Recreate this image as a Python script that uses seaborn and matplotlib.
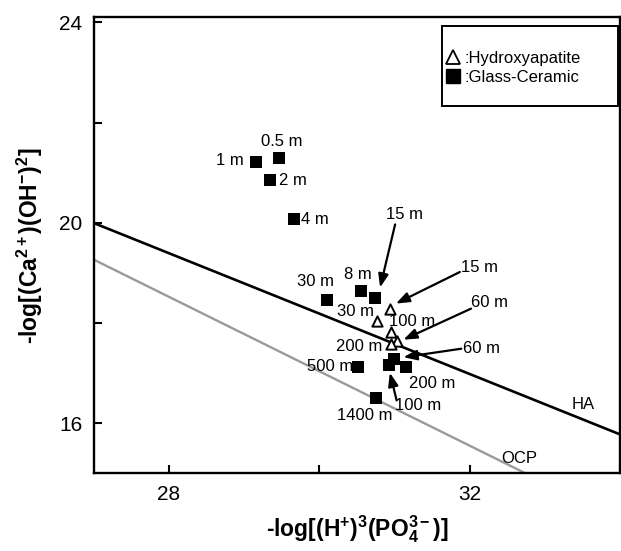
import matplotlib
matplotlib.use("Agg")
import matplotlib.pyplot as plt
import seaborn as sns
import pandas as pd
from matplotlib import font_manager
from matplotlib.lines import Line2D
from matplotlib.patches import Rectangle

# DATA
# glass-ceramic (filled squares)
gc_x = [29.46, 29.16, 29.35, 29.67, 30.11, 30.56, 30.74, 30.51, 30.93, 31.00, 31.15, 30.76]
gc_y = [21.29, 21.22, 20.86, 20.08, 18.46, 18.64, 18.51, 17.12, 17.16, 17.28, 17.12, 16.50]
# hydroxyapatite (open triangles)
ha_pts_x = [30.94, 30.77, 30.95, 31.03, 30.95]
ha_pts_y = [18.28, 18.05, 17.83, 17.65, 17.58]
# solubility lines
ha_line_x = [27.0, 34.0]
ha_line_y = [20.0, 15.78]
ocp_line_x = [27.0, 34.0]
ocp_line_y = [19.27, 14.07]
x_ticks = [28, 30, 32, 34]
y_ticks = [16, 18, 20, 22, 24]

# time labels: (text, x, y, ha)
labels = [
    ("0.5 m", 29.50, 21.62, "center"),
    ("1 m", 28.81, 21.25, "center"),
    ("2 m", 29.46, 20.84, "left"),
    ("4 m", 29.76, 20.06, "left"),
    ("30 m", 29.95, 18.83, "center"),
    ("8 m", 30.51, 18.97, "center"),
    ("30 m", 30.48, 18.23, "center"),
    ("100 m", 31.24, 18.04, "center"),
    ("200 m", 30.53, 17.53, "center"),
    ("500 m", 30.15, 17.13, "center"),
    ("200 m", 31.50, 16.80, "center"),
    ("1400 m", 30.60, 16.16, "center"),
    ("15 m", 31.13, 20.17, "center"),
    ("15 m", 32.13, 19.12, "center"),
    ("60 m", 32.26, 18.41, "center"),
    ("60 m", 32.16, 17.49, "center"),
    ("100 m", 31.32, 16.35, "center"),
]
# arrows: (tail, head)
arrows = [
    ((31.01, 19.97), (30.81, 18.71)),
    ((31.87, 19.02), (31.02, 18.39)),
    ((32.02, 18.29), (31.12, 17.67)),
    ((31.89, 17.49), (31.12, 17.32)),
    ((31.03, 16.46), (30.94, 17.01)),
]

sns.set_style("ticks")
plt.rcParams["font.family"] = ["Liberation Sans", "DejaVu Sans"]
plt.rcParams["mathtext.fontset"] = "custom"
plt.rcParams["mathtext.rm"] = "Liberation Sans"
plt.rcParams["mathtext.bf"] = "Liberation Sans:bold"
plt.rcParams["mathtext.it"] = "Liberation Sans:italic"
plt.rcParams["mathtext.default"] = "bf"
for key in ["text.color", "axes.labelcolor", "axes.edgecolor", "xtick.color", "ytick.color"]:
    plt.rcParams[key] = "black"

names = {f.name for f in font_manager.fontManager.ttflist}
narrow = "Liberation Sans Narrow" in names
tick_font = "Liberation Sans Narrow" if narrow else "Liberation Sans"
tick_size = 17 if narrow else 15

fig = plt.figure(figsize=(6.21, 5.51), dpi=100)
ax = fig.add_axes([0.1506, 0.1407, 0.8478, 0.8276])

gc = pd.DataFrame({"x": gc_x, "y": gc_y})
hap = pd.DataFrame({"x": ha_pts_x, "y": ha_pts_y})

sns.lineplot(x=ha_line_x, y=ha_line_y, color="black", linewidth=1.9, ax=ax)
sns.lineplot(x=ocp_line_x, y=ocp_line_y, color="#9a9a9a", linewidth=1.7, ax=ax)
sns.scatterplot(data=gc, x="x", y="y", marker="s", s=85, color="black",
                linewidth=0, ax=ax, zorder=3)
sns.scatterplot(data=hap, x="x", y="y", marker="^", s=55, color="white",
                edgecolor="black", linewidth=1.4, ax=ax, zorder=4)

for txt, x, y, ha in labels:
    ax.text(x, y, txt, fontsize=12, ha=ha, va="center", zorder=5)
for tail, head in arrows:
    ax.annotate("", xy=head, xytext=tail,
                arrowprops=dict(arrowstyle="-|>,head_length=0.8,head_width=0.3",
                                color="black", lw=1.6, shrinkA=0, shrinkB=0))

ax.text(33.51, 16.37, "HA", fontsize=12, ha="center", va="center")
ax.text(32.66, 15.30, "OCP", fontsize=12, ha="center", va="center")

ax.set_xlim(27, 34)
ax.set_ylim(15, 24.1)
ax.set_xticks(x_ticks)
ax.set_yticks(y_ticks)
ax.set_xticklabels([str(t) if t % 4 == 0 and t < 34 else "" for t in x_ticks],
                   fontfamily=tick_font, fontsize=tick_size)
ax.set_yticklabels([str(t) if t % 4 == 0 else "" for t in y_ticks],
                   fontfamily=tick_font, fontsize=tick_size)
ax.tick_params(direction="in", length=6, width=1.5, pad=8)
for sp in ax.spines.values():
    sp.set_linewidth(1.7)
    sp.set_visible(True)

ax.set_xlabel(r"-log[(H$^{+}$)$^{3}$(PO$_{4}^{3-}$)]", fontsize=16.5,
              fontweight="bold", labelpad=7)
ax.set_ylabel(r"-log[(Ca$^{2+}$)(OH$^{-}$)$^{2}$]", fontsize=16.5,
              fontweight="bold", labelpad=10)

# legend box
ax.add_patch(Rectangle((0.6627, 0.8057), 0.9958 - 0.6627, 0.9805 - 0.8057,
                       transform=ax.transAxes, fill=False, edgecolor="black",
                       linewidth=1.4, zorder=6))
handles = [
    Line2D([], [], marker="^", linestyle="none", markersize=10,
           markerfacecolor="white", markeredgecolor="black", markeredgewidth=1.3),
    Line2D([], [], marker="s", linestyle="none", markersize=10,
           markerfacecolor="black", markeredgecolor="black"),
]
ax.legend(handles, [":Hydroxyapatite", ":Glass-Ceramic"], loc="center left",
          bbox_to_anchor=(0.668, 0.89), frameon=False, fontsize=12,
          handlelength=0.9, handletextpad=0.25, labelspacing=0.25,
          borderpad=0, borderaxespad=0)

fig.savefig("out.png", dpi=100)
